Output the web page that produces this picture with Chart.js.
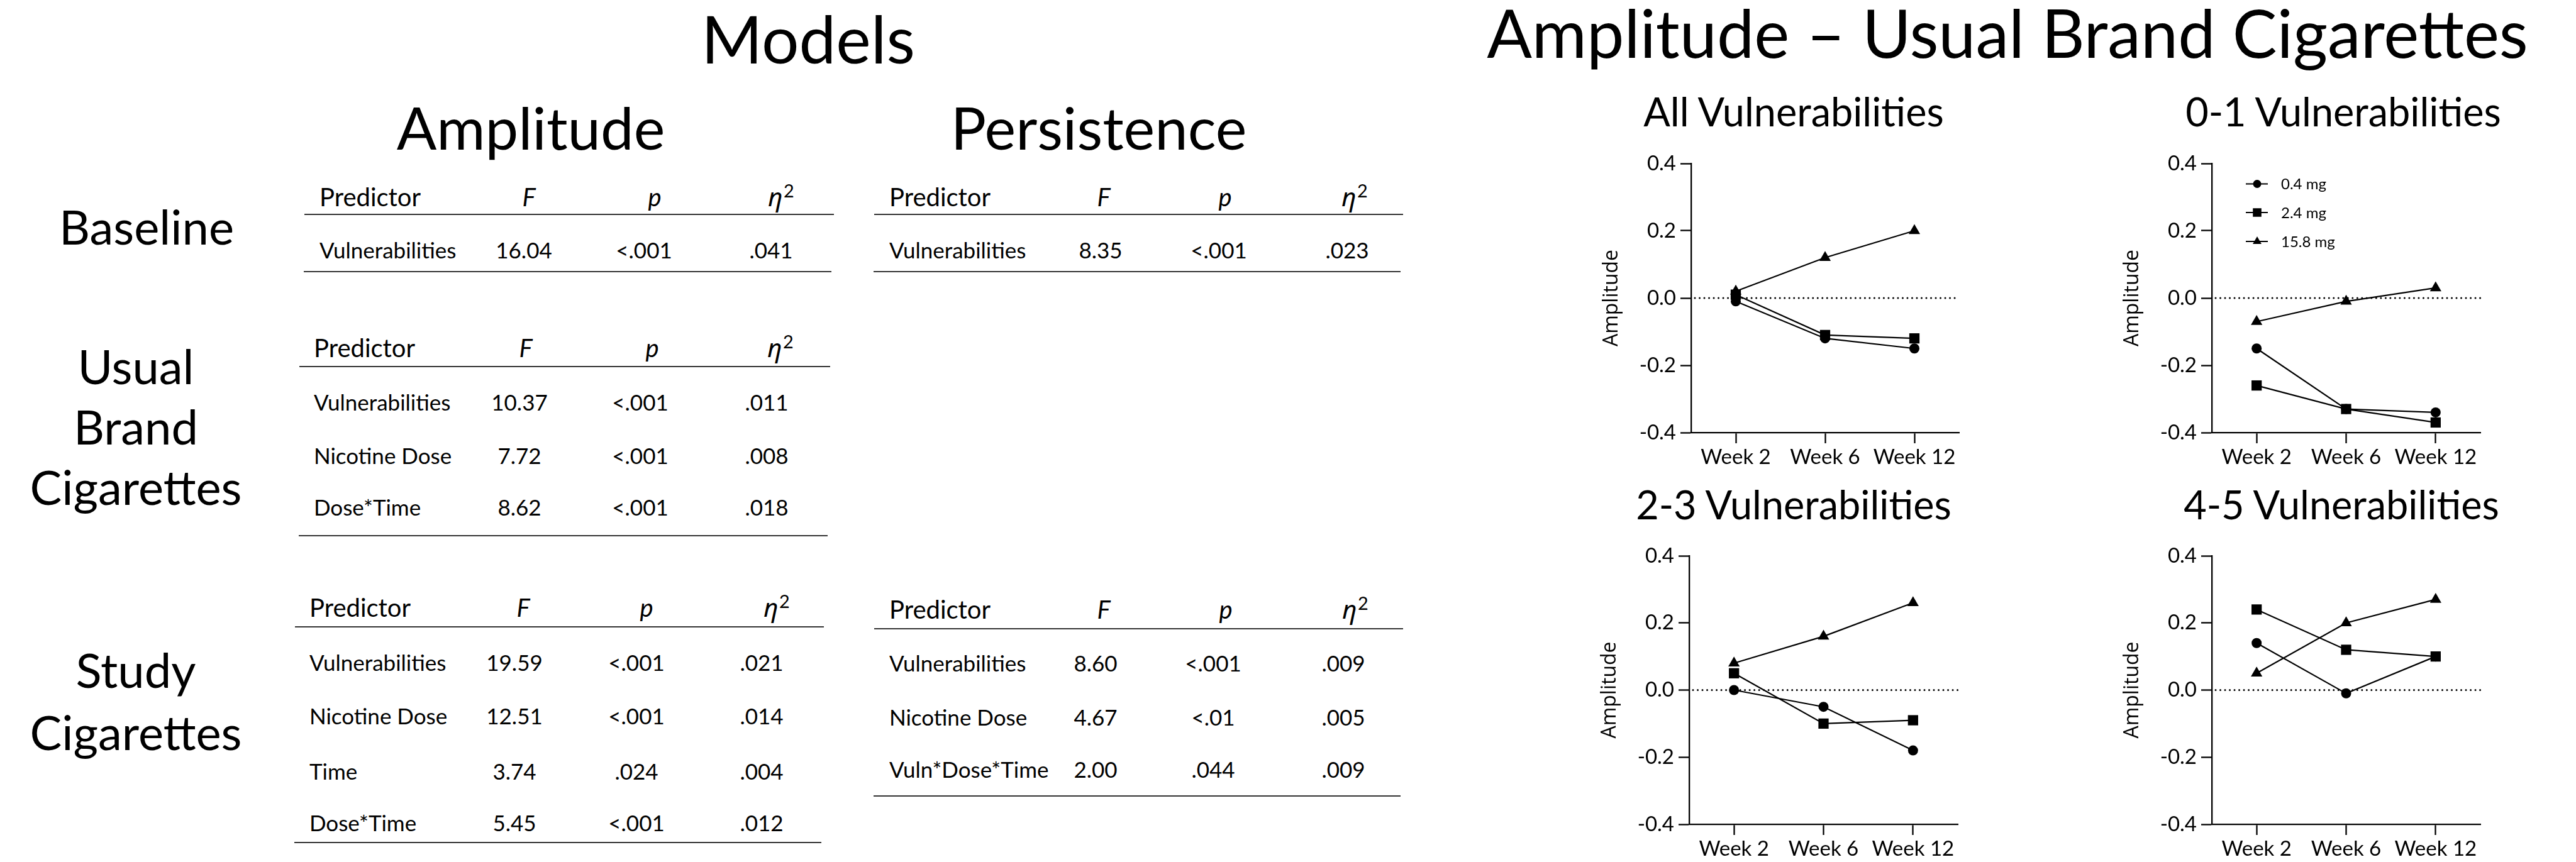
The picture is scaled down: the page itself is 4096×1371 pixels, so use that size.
<!DOCTYPE html>
<html>
<head>
<meta charset="utf-8">
<title>Models and Amplitude – Usual Brand Cigarettes</title>
<script src="https://cdn.jsdelivr.net/npm/chart.js@4.4.1/dist/chart.umd.min.js"></script>
<style>
  html, body { margin: 0; padding: 0; background: #fff; }
  #stage { position: relative; width: 4096px; height: 1371px; overflow: hidden; background: #fff;
           font-family: Lato, "Open Sans", sans-serif; color: #000; }
  .t { position: absolute; white-space: nowrap; line-height: 1; }
  .rule { position: absolute; height: 1.5px; background: #333; }
  canvas { position: absolute; }
  .eta { font-family: "Noto Sans", "DejaVu Sans", sans-serif; font-style: italic; }
  .sq { font-size: 0.72em; position: relative; top: -0.5em; margin-left: 0.05em; font-style: normal; }
</style>
</head>
<body>
<div id="stage"></div>
<script>
// ---- Time points and nicotine doses ----
const weeks = ['Week 2', 'Week 6', 'Week 12'];
const doses = ['0.4 mg', '2.4 mg', '15.8 mg'];

// ---- Amplitude by dose (0.4 / 2.4 / 15.8 mg), usual brand cigarettes ----
const allVuln04 = [-0.01, -0.12, -0.15];
const allVuln24 = [0.01, -0.11, -0.12];
const allVuln158 = [0.02, 0.12, 0.20];

const vuln01Dose04 = [-0.15, -0.33, -0.34];
const vuln01Dose24 = [-0.26, -0.33, -0.37];
const vuln01Dose158 = [-0.07, -0.01, 0.03];

const vuln23Dose04 = [0.00, -0.05, -0.18];
const vuln23Dose24 = [0.05, -0.10, -0.09];
const vuln23Dose158 = [0.08, 0.16, 0.26];

const vuln45Dose04 = [0.14, -0.01, 0.10];
const vuln45Dose24 = [0.24, 0.12, 0.10];
const vuln45Dose158 = [0.05, 0.20, 0.27];

const yTickValues = [-0.4, -0.2, 0.0, 0.2, 0.4];

// ---- Model tables: predictor, F, p, eta squared ----
const ampBaselineRows = [['Vulnerabilities', '16.04', '<.001', '.041']];
const ampUsualRows = [
  ['Vulnerabilities', '10.37', '<.001', '.011'],
  ['Nicotine Dose', '7.72', '<.001', '.008'],
  ['Dose*Time', '8.62', '<.001', '.018']
];
const ampStudyRows = [
  ['Vulnerabilities', '19.59', '<.001', '.021'],
  ['Nicotine Dose', '12.51', '<.001', '.014'],
  ['Time', '3.74', '.024', '.004'],
  ['Dose*Time', '5.45', '<.001', '.012']
];
const persBaselineRows = [['Vulnerabilities', '8.35', '<.001', '.023']];
const persStudyRows = [
  ['Vulnerabilities', '8.60', '<.001', '.009'],
  ['Nicotine Dose', '4.67', '<.01', '.005'],
  ['Vuln*Dose*Time', '2.00', '.044', '.009']
];

// ---------------------------------------------------------------
const stage = document.getElementById('stage');

// Place a text element so that its alphabetic baseline sits at y.
function addText(content, x, y, o) {
  const el = document.createElement('div');
  el.className = 't';
  el.style.fontSize = o.size + 'px';
  el.style.fontWeight = o.weight || 400;
  if (o.family) el.style.fontFamily = o.family;
  if (o.italic) el.style.fontStyle = 'italic';
  if (o.html) el.innerHTML = content; else el.textContent = content;
  const probe = document.createElement('span');
  probe.style.cssText = 'display:inline-block;width:0;height:0;vertical-align:baseline;';
  el.appendChild(probe);
  el.style.left = '0px';
  el.style.top = '0px';
  stage.appendChild(el);
  const er = el.getBoundingClientRect();
  const pr = probe.getBoundingClientRect();
  const baseOff = pr.top - er.top;
  let left = x;
  if (o.align === 'center') left = x - er.width / 2;
  else if (o.align === 'right') left = x - er.width;
  el.style.left = left + 'px';
  el.style.top = (y - baseOff) + 'px';
  return el;
}

function addRule(x0, x1, y) {
  const r = document.createElement('div');
  r.className = 'rule';
  r.style.left = x0 + 'px';
  r.style.width = (x1 - x0) + 'px';
  r.style.top = (y - 0.75) + 'px';
  stage.appendChild(r);
}

// ---- Headings ----
addText('Models', 1285, 101, { size: 105, align: 'center' });
addText('Amplitude', 844, 238, { size: 94, align: 'center' });
addText('Persistence', 1747, 238, { size: 94, align: 'center' });
addText('Amplitude \u2013 Usual Brand Cigarettes', 3192, 92, { size: 106, align: 'center' });

// Row group labels
addText('Baseline', 233, 389, { size: 76, align: 'center' });
['Usual', 'Brand', 'Cigarettes'].forEach((w, i) => addText(w, 216, 611 + i * 96, { size: 76, align: 'center' }));
['Study', 'Cigarettes'].forEach((w, i) => addText(w, 216, 1094 + i * 99, { size: 76, align: 'center' }));

// ---- Tables ----
const tableLayouts = [
  { rows: ampBaselineRows, rule: [484, 1326], head: 328, top: 341, lines: [411], bottom: 432,
    predX: 508, colX: [833, 1024, 1226], headX: [841, 1041, 1242] },
  { rows: ampUsualRows, rule: [476, 1320], head: 568, top: 583, lines: [653, 738, 820], bottom: 852,
    predX: 499, colX: [826, 1018, 1219], headX: [836, 1037, 1241] },
  { rows: ampStudyRows, rule: [469, 1310], head: 981, top: 997, lines: [1067, 1152, 1240, 1322], bottom: 1340,
    predX: 492, colX: [818, 1012, 1211], headX: [832, 1028, 1235] },
  { rows: persBaselineRows, rule: [1390, 2231], head: 328, top: 341, lines: [411], bottom: 432,
    predX: 1414, colX: [1750, 1938, 2142], headX: [1755, 1948, 2154] },
  { rows: persStudyRows, rule: [1390, 2231], head: 984, top: 1000, lines: [1068, 1154, 1237], bottom: 1266,
    predX: 1414, colX: [1742, 1929, 2136], headX: [1755, 1949, 2155] }
];

const HEAD_SIZE = 40, BODY_SIZE = 35, TABLE_WEIGHT = 400;
tableLayouts.forEach(tb => {
  addText('Predictor', tb.predX, tb.head, { size: HEAD_SIZE, weight: TABLE_WEIGHT });
  addText('F', tb.headX[0], tb.head, { size: HEAD_SIZE, weight: TABLE_WEIGHT, italic: true, align: 'center' });
  addText('p', tb.headX[1], tb.head, { size: HEAD_SIZE, weight: TABLE_WEIGHT, italic: true, align: 'center' });
  addText('<span class="eta">\u03b7</span><span class="sq">2</span>', tb.headX[2], tb.head,
          { size: HEAD_SIZE, weight: TABLE_WEIGHT, html: true, align: 'center' });
  addRule(tb.rule[0], tb.rule[1], tb.top);
  tb.rows.forEach((row, i) => {
    const y = tb.lines[i];
    addText(row[0], tb.predX, y, { size: BODY_SIZE, weight: TABLE_WEIGHT });
    for (let c = 1; c < 4; c++) {
      addText(row[c], tb.colX[c - 1], y, { size: BODY_SIZE, weight: TABLE_WEIGHT, align: 'center' });
    }
  });
  addRule(tb.rule[0] - 1, tb.rule[1] - 4, tb.bottom);
});

// ---- Line charts ----
const markerStyles = ['circle', 'rect', 'triangle'];
const markerRadii = [8, 11.5, 10.5];
const legendRadii = [6.5, 9.6, 8];
const legendRowOffsets = [32.5, 78, 124];

// Dotted reference line at zero amplitude
const zeroLinePlugin = {
  id: 'zeroLine',
  beforeDatasetsDraw(chart) {
    const { ctx, chartArea, scales } = chart;
    const py = scales.y.getPixelForValue(0);
    ctx.save();
    ctx.strokeStyle = '#000';
    ctx.lineWidth = 3;
    ctx.lineCap = 'round';
    ctx.setLineDash([0.01, 7.5]);
    ctx.beginPath();
    ctx.moveTo(chartArea.left + 6, py);
    ctx.lineTo(chartArea.right, py);
    ctx.stroke();
    ctx.restore();
  }
};

function drawMarker(ctx, style, r, x, y) {
  ctx.beginPath();
  if (style === 'circle') {
    ctx.arc(x, y, r, 0, Math.PI * 2);
  } else if (style === 'rect') {
    const s = Math.SQRT1_2 * r;
    ctx.rect(x - s, y - s, 2 * s, 2 * s);
  } else {
    for (let k = 0; k < 3; k++) {
      const a = k * 2 * Math.PI / 3;
      const px = x + Math.sin(a) * r, py = y - Math.cos(a) * r;
      if (k === 0) ctx.moveTo(px, py); else ctx.lineTo(px, py);
    }
    ctx.closePath();
  }
  ctx.fill();
}

// Dose key drawn inside the plot area
const doseKeyPlugin = {
  id: 'doseKey',
  afterDatasetsDraw(chart) {
    const { ctx, chartArea } = chart;
    ctx.save();
    chart.data.datasets.forEach((ds, i) => {
      const y = chartArea.top + legendRowOffsets[i];
      const x0 = chartArea.left + 54, x1 = chartArea.left + 89, xm = chartArea.left + 72;
      ctx.strokeStyle = '#000';
      ctx.fillStyle = '#000';
      ctx.lineWidth = 2;
      ctx.beginPath();
      ctx.moveTo(x0, y);
      ctx.lineTo(x1, y);
      ctx.stroke();
      drawMarker(ctx, markerStyles[i], legendRadii[i], xm, y);
      ctx.font = '400 24px Lato';
      ctx.textBaseline = 'middle';
      ctx.textAlign = 'left';
      ctx.fillText(ds.label, chartArea.left + 110, y + 1);
    });
    ctx.restore();
  }
};

const panels = [
  { title: 'All Vulnerabilities', series: [allVuln04, allVuln24, allVuln158],
    box: { l: 2689, t: 260, r: 3115, b: 688 }, titleX: 2852, titleY: 201, key: false },
  { title: '0-1 Vulnerabilities', series: [vuln01Dose04, vuln01Dose24, vuln01Dose158],
    box: { l: 3517, t: 260, r: 3944, b: 688 }, titleX: 3726, titleY: 201, key: true },
  { title: '2-3 Vulnerabilities', series: [vuln23Dose04, vuln23Dose24, vuln23Dose158],
    box: { l: 2686, t: 884, r: 3113, b: 1311 }, titleX: 2852, titleY: 826, key: false },
  { title: '4-5 Vulnerabilities', series: [vuln45Dose04, vuln45Dose24, vuln45Dose158],
    box: { l: 3517, t: 884, r: 3944, b: 1311 }, titleX: 3723, titleY: 826, key: false }
];

Chart.defaults.font.family = 'Lato';
Chart.defaults.color = '#000';

const YW = 170, PT = 30, PR = 16, XH = 70;

panels.forEach(p => {
  addText(p.title, p.titleX, p.titleY, { size: 63, align: 'center' });

  const canvas = document.createElement('canvas');
  const w = p.box.r - p.box.l + YW + PR;
  const h = p.box.b - p.box.t + PT + XH;
  canvas.width = w;
  canvas.height = h;
  canvas.style.left = (p.box.l - YW) + 'px';
  canvas.style.top = (p.box.t - PT) + 'px';
  canvas.style.width = w + 'px';
  canvas.style.height = h + 'px';
  stage.appendChild(canvas);

  new Chart(canvas, {
    type: 'line',
    data: {
      labels: weeks,
      datasets: p.series.map((vals, i) => ({
        label: doses[i],
        data: vals,
        borderColor: '#000',
        backgroundColor: '#000',
        borderWidth: 2.2,
        pointStyle: markerStyles[i],
        pointRadius: markerRadii[i],
        pointHoverRadius: markerRadii[i],
        pointBorderWidth: 0,
        pointBackgroundColor: '#000',
        tension: 0,
        fill: false,
        clip: false
      }))
    },
    options: {
      responsive: false,
      animation: false,
      devicePixelRatio: 1,
      events: [],
      layout: { padding: { top: PT, right: PR, left: 0, bottom: 0 } },
      plugins: { legend: { display: false }, title: { display: false }, tooltip: { enabled: false } },
      scales: {
        x: {
          type: 'category',
          offset: true,
          afterFit: s => { s.height = XH; },
          grid: { display: true, drawOnChartArea: false, drawTicks: true, tickLength: 17,
                  tickWidth: 2.3, tickColor: '#000', offset: false },
          border: { display: true, color: '#000', width: 2.3 },
          ticks: { color: '#000', font: { family: 'Lato', size: 33 }, padding: 3,
                   maxRotation: 0, minRotation: 0, autoSkip: false }
        },
        y: {
          min: yTickValues[0],
          max: yTickValues[yTickValues.length - 1],
          afterFit: s => { s.width = YW; },
          afterBuildTicks: s => { s.ticks = yTickValues.map(v => ({ value: v })); },
          ticks: { color: '#000', font: { family: 'Lato', size: 33 }, padding: 7,
                   callback: v => (Math.abs(v) < 1e-9 ? 0 : v).toFixed(1) },
          grid: { display: true, drawOnChartArea: false, drawTicks: true, tickLength: 17,
                  tickWidth: 2.3, tickColor: '#000' },
          border: { display: true, color: '#000', width: 2.3 },
          title: { display: true, text: 'Amplitude', color: '#000',
                   font: { family: 'Open Sans', size: 32 }, padding: { top: 25, bottom: 0 } }
        }
      }
    },
    plugins: p.key ? [zeroLinePlugin, doseKeyPlugin] : [zeroLinePlugin]
  });
});
</script>
</body>
</html>
